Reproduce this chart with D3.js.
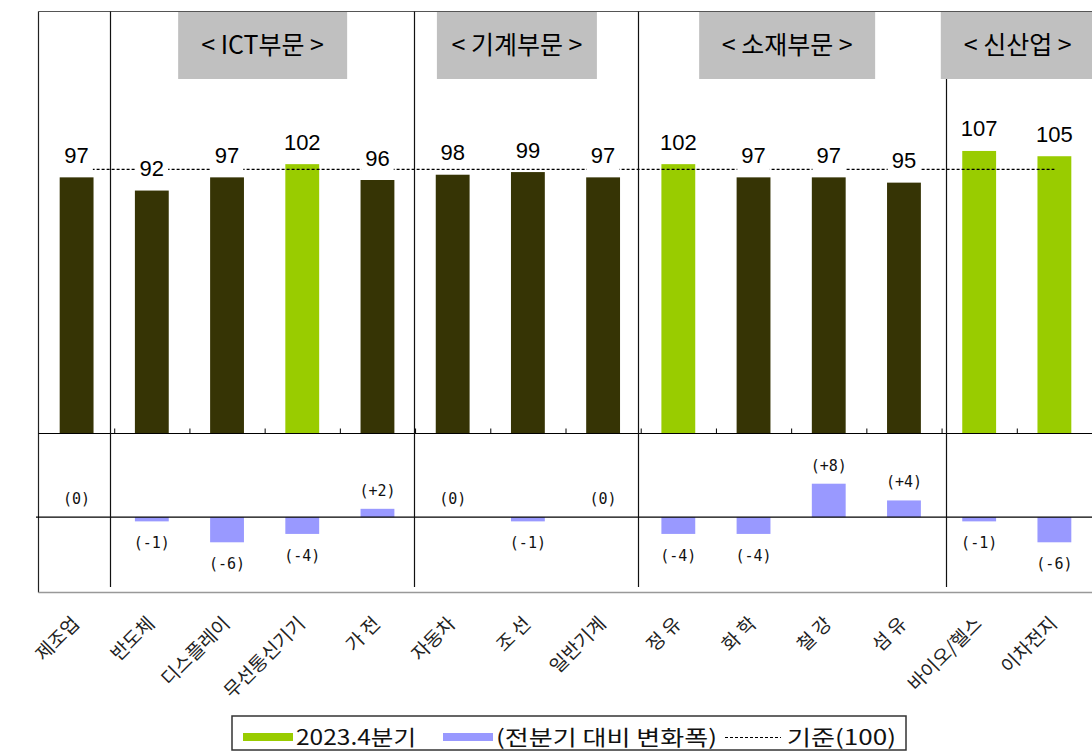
<!DOCTYPE html>
<html><head><meta charset="utf-8">
<script src="https://cdn.jsdelivr.net/npm/d3@7"></script>
<style>body{margin:0;background:#fff}</style>
</head><body>
<svg id="c" width="1092" height="752" xmlns="http://www.w3.org/2000/svg"></svg>
<script>
// ---------- data ----------
const categories = ["제조업","반도체","디스플레이","무선통신기기","가 전","자동차","조 선","일반기계","정 유","화 학","철 강","섬 유","바이오/헬스","이차전지"];
const indexValues = [97, 92, 97, 102, 96, 98, 99, 97, 102, 97, 97, 95, 107, 105];
const changeValues = [0, -1, -6, -4, 2, 0, -1, 0, -4, -4, 8, 4, -1, -6];
const highlighted = ["무선통신기기", "정 유", "바이오/헬스", "이차전지"];
const groupNames = ["< ICT부문 >", "< 기계부문 >", "< 소재부문 >", "< 신산업 >"];
const groupFirst = ["반도체", "자동차", "정 유", "바이오/헬스"];
const groupLast = ["가 전", "일반기계", "섬 유", "이차전지"];
const baseValue = 100;
const legendLabels = ["2023.4분기", "(전분기 대비 변화폭)", "기준(100)"];

// ---------- layout / style ----------
const L = 38.5, R = 1092, T = 11.5, MID = 433.5, B = 592.5;
const COL_DARK = "#363405", COL_GREEN = "#99cc00", COL_BLUE = "#9999ff", COL_HEAD = "#c0c0c0";
const headerLayout = [{w:169, dx:-2}, {w:160, dx:-11}, {w:176, dx:-4}, {w:154, dx:1}];
const sepDx = [-4, -1, -3, 4];
const KFONT = "'Noto Sans CJK KR', 'Noto Sans', sans-serif";

const svg = d3.select("#c");
const x = d3.scaleBand().domain(categories).range([39, 1092]).paddingInner(0).paddingOuter(0);
const bw = x.bandwidth() * 0.45;
const yTop = d3.scaleLinear().domain([0, 160]).range([MID, 11]);
const yBot = d3.scaleLinear().domain([-18, 20]).range([B, MID]);
const cx = c => x(c) + x.bandwidth() / 2;

// header boxes
const headG = svg.append("g");
groupNames.forEach((g, i) => {
  const x0 = x(groupFirst[i]), x1 = x(groupLast[i]) + x.bandwidth();
  const c = (x0 + x1) / 2 + headerLayout[i].dx;
  const w = headerLayout[i].w;
  headG.append("rect").attr("x", c - w / 2).attr("y", 12).attr("width", w).attr("height", 67).attr("fill", COL_HEAD);
  headG.append("text").attr("x", c).attr("y", 54).attr("text-anchor", "middle")
    .attr("font-family", KFONT).attr("font-size", 25).attr("fill", "#000").text(g);
});

// upper bars
const topData = categories.map((c, i) => ({c, v: indexValues[i]}));
svg.append("g").selectAll("rect").data(topData).join("rect")
  .attr("x", d => cx(d.c) - bw / 2).attr("width", bw)
  .attr("y", d => yTop(d.v)).attr("height", d => yTop(0) - yTop(d.v))
  .attr("fill", d => highlighted.includes(d.c) ? COL_GREEN : COL_DARK);

// baseline 100 dashed
svg.append("line")
  .attr("x1", cx(categories[0])).attr("x2", cx(categories[categories.length - 1]))
  .attr("y1", yTop(baseValue)).attr("y2", yTop(baseValue))
  .attr("stroke", "#000").attr("stroke-width", 1.2).attr("stroke-dasharray", "3,2");

// upper labels with white background
const lblG = svg.append("g");
topData.forEach(d => {
  const by = yTop(d.v) - 14.5;
  const g = lblG.append("g");
  const r = g.append("rect").attr("fill", "#fff");
  const t = g.append("text").attr("x", cx(d.c)).attr("y", by).attr("text-anchor", "middle")
    .attr("font-family", "'Liberation Sans', Arial, sans-serif").attr("font-size", 22).attr("fill", "#000").text(d.v);
  const tw = t.node().getComputedTextLength() + 8;
  r.attr("x", cx(d.c) - tw / 2).attr("y", by - 22).attr("width", tw).attr("height", 30);
});

// lower bars
const botData = categories.map((c, i) => ({c, v: changeValues[i]}));
svg.append("g").selectAll("rect").data(botData.filter(d => d.v !== 0)).join("rect")
  .attr("x", d => cx(d.c) - bw / 2).attr("width", bw)
  .attr("y", d => yBot(Math.max(0, d.v))).attr("height", d => Math.abs(yBot(d.v) - yBot(0)))
  .attr("fill", COL_BLUE);

// lower labels
const fmt = v => v > 0 ? `(+${v})` : v < 0 ? `(-${Math.abs(v)})` : "(0)";
svg.append("g").selectAll("text").data(botData).join("text")
  .attr("x", d => cx(d.c)).attr("y", d => d.v < 0 ? yBot(d.v) + 27 : yBot(d.v) - 13)
  .attr("text-anchor", "middle").attr("font-family", "'DejaVu Sans Mono', monospace").attr("font-size", 15)
  .attr("fill", "#111").text(d => fmt(d.v));

// frame lines
const fr = svg.append("g").attr("fill", "none");
fr.append("line").attr("x1", L).attr("x2", R).attr("y1", T).attr("y2", T).attr("stroke", "#555").attr("stroke-width", 1.2);
fr.append("line").attr("x1", L).attr("x2", L).attr("y1", T).attr("y2", B).attr("stroke", "#222").attr("stroke-width", 1.2);
fr.append("line").attr("x1", L).attr("x2", R).attr("y1", MID).attr("y2", MID).attr("stroke", "#000").attr("stroke-width", 1.2);
fr.append("line").attr("x1", 36).attr("x2", R).attr("y1", yBot(0)).attr("y2", yBot(0)).attr("stroke", "#000").attr("stroke-width", 1.2);
fr.append("line").attr("x1", L).attr("x2", R).attr("y1", B).attr("y2", B).attr("stroke", "#999").attr("stroke-width", 1.5);
// category boundary ticks on the upper baseline
categories.slice(1).forEach(c => {
  fr.append("line").attr("x1", x(c) + 0.5).attr("x2", x(c) + 0.5).attr("y1", MID - 5).attr("y2", MID).attr("stroke", "#000");
});
// group separators
groupFirst.forEach((c, i) => {
  const sx = Math.round(x(c) + sepDx[i]) + 0.5;
  fr.append("line").attr("x1", sx).attr("x2", sx).attr("y1", i === 3 ? 79 : T).attr("y2", 587)
    .attr("stroke", "#111").attr("stroke-width", 1.2);
});

// x axis labels (rotated)
const ax = svg.append("g").attr("transform", "translate(0,625)").call(d3.axisBottom(x).tickSize(0).tickPadding(0));
ax.select(".domain").remove();
ax.selectAll("text")
  .attr("y", 0).attr("dy", null).attr("transform", "translate(4,0) rotate(-45)")
  .attr("text-anchor", "end").attr("font-family", KFONT).attr("font-size", 19).attr("fill", "#222");

// legend
const lg = svg.append("g");
lg.append("rect").attr("x", 232).attr("y", 716).attr("width", 674).attr("height", 34)
  .attr("fill", "#fff").attr("stroke", "#333").attr("stroke-width", 1.5);
lg.append("rect").attr("x", 243).attr("y", 733).attr("width", 50).attr("height", 8).attr("fill", COL_GREEN);
lg.append("rect").attr("x", 443).attr("y", 733).attr("width", 50).attr("height", 8).attr("fill", COL_BLUE);
lg.append("line").attr("x1", 725).attr("x2", 781).attr("y1", 737.5).attr("y2", 737.5)
  .attr("stroke", "#000").attr("stroke-dasharray", "3,2");
const legPos = [[296, 120], [496, 221], [787, 109]];
legendLabels.forEach((t, i) => {
  lg.append("text").attr("x", legPos[i][0]).attr("y", 745).attr("font-family", KFONT).attr("font-size", 21)
    .attr("textLength", legPos[i][1]).attr("lengthAdjust", "spacingAndGlyphs").attr("fill", "#111").text(t);
});
</script>
</body></html>
